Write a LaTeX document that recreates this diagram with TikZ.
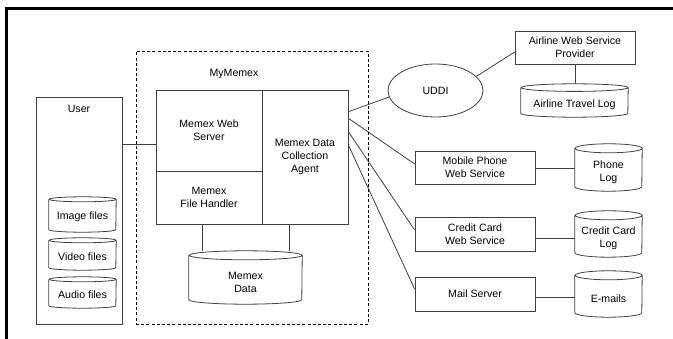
\documentclass[tikz,border=0pt]{standalone}
\usepackage{fontspec}
\setmainfont{Liberation Sans}
\usetikzlibrary{shapes.geometric,backgrounds}

\tikzset{
  every node/.style={font=\fontsize{10.6}{13}\selectfont, align=center},
  box/.style={draw=black!75, line width=0.8pt, rectangle, inner sep=0pt, fill=white},
  group/.style={draw=black, line width=0.8pt, dash pattern=on 3pt off 2.2pt, rectangle, inner sep=0pt},
  registry/.style={draw=black!75, line width=0.8pt, ellipse, inner sep=0pt, fill=white},
  drumframe/.style={draw=none, rectangle, inner sep=0pt},
  drumline/.style={draw=black!75, line width=0.8pt, fill=white},
  link/.style={draw=black!75, line width=0.8pt},
  frame/.style={draw=black, line width=2.5pt},
}

% storage drum: name, centre x, top y, bottom y, width, ellipse half-height, text
\newcommand\drum[7]{%
  \pgfmathsetmacro\drumH{#4-#3}%
  \pgfmathsetmacro\drumM{(#3+#4)/2}%
  \pgfmathsetmacro\drumT{(#3+2*#6+#4)/2}%
  \node[drumframe, minimum width=#5pt, minimum height=\drumH pt] (#1) at (#2,\drumM) {};
  \draw[drumline] ([yshift=-#6pt]#1.north west) -- ([yshift=#6pt]#1.south west)
     arc[start angle=180, end angle=360, x radius=#5pt/2, y radius=#6pt]
     -- ([yshift=-#6pt]#1.north east)
     arc[start angle=0, end angle=360, x radius=#5pt/2, y radius=#6pt];
  \node (#1-label) at (#2,\drumT) {#7};
}

\begin{document}
\begin{tikzpicture}[x=1pt, y=-1pt]
\useasboundingbox (0,0) rectangle (673,339);

% outer frame (only top and left edges fall inside the page)
\draw[frame] (6.3,345) -- (6.3,8.7) -- (680,8.7);

% user side
\node[box, minimum width=86pt, minimum height=227pt,
      label={[anchor=north, inner sep=0pt, yshift=-8pt]north:User}] (user) at (79,210.5) {};
\drum{image}{82.5}{197}{232}{67}{2.5}{Image files}
\drum{video}{82.5}{238}{270}{67}{2.5}{Video files}
\drum{audio}{82.5}{277}{308}{67}{2.5}{Audio files}

% MyMemex group
\node[group, minimum width=232pt, minimum height=273pt] (mymemex) at (252,187.5) {};
\node[anchor=base] (mymemex-title) at (234,77) {MyMemex};
\node[box, minimum width=106pt, minimum height=81pt] (webserver) at (209,130.5) {Memex Web\\Server};
\node[box, minimum width=106pt, minimum height=53pt] (handler) at (209,197.5) {Memex\\File Handler};
\node[box, minimum width=86pt, minimum height=134pt] (agent) at (305,157) {Memex Data\\Collection\\Agent};
\drum{mdata}{245.5}{251}{304}{113}{4.5}{Memex\\Data}

% external services
\node[registry, minimum width=95pt, minimum height=53pt] (uddi) at (435.5,90.5) {UDDI};
\node[box, minimum width=120pt, minimum height=33pt] (airline) at (575,47.5) {Airline Web Service\\Provider};
\drum{airlog}{574.5}{84}{117}{107}{3.8}{Airline Travel Log}
\node[box, minimum width=120pt, minimum height=33pt] (mobile) at (475,167.5) {Mobile Phone\\Web Service};
\drum{phonelog}{608.5}{144}{191}{67}{4.5}{Phone\\Log}
\node[box, minimum width=120pt, minimum height=34pt] (credit) at (475,234) {Credit Card\\Web Service};
\drum{creditlog}{608.5}{211}{257}{67}{4.5}{Credit Card\\Log}
\node[box, minimum width=120pt, minimum height=34pt] (mail) at (475,294) {Mail Server};
\drum{emails}{608.5}{271}{317}{67}{4.5}{E-mails}

% connectors
\begin{scope}[on background layer]
  \coordinate (userweb) at ([yshift=-13.5pt]webserver.west);
  \draw[link] (userweb -| user.east) -- (userweb);

  \coordinate (hdrop) at ([xshift=-7pt]handler.south);
  \coordinate (adrop) at ([xshift=-16pt]agent.south);
  \draw[link] (hdrop) -- (hdrop |- mdata.north);
  \draw[link] (adrop) -- (adrop |- mdata.north);

  \draw[link] ([yshift=45.3pt]agent.east) -- (uddi.188);
  \draw[link] ([yshift=38.7pt]agent.east) -- ([yshift=3.5pt]mobile.west);
  \draw[link] ([yshift=25.3pt]agent.east) -- ([yshift=4pt]credit.west);
  \draw[link] ([yshift=12pt]agent.east) -- ([yshift=5pt]mail.west);

  \draw[link] (uddi.19) -- ([yshift=-4.5pt]airline.west);
  \draw[link] (airline.south) -- (airline.south |- airlog.north);

  \coordinate (mobout) at ([yshift=-1pt]mobile.east);
  \coordinate (credout) at ([yshift=-4pt]credit.east);
  \coordinate (mailout) at ([yshift=-3pt]mail.east);
  \draw[link] (mobout) -- (mobout -| phonelog.west);
  \draw[link] (credout) -- (credout -| creditlog.west);
  \draw[link] (mailout) -- (mailout -| emails.west);
\end{scope}
\end{tikzpicture}
\end{document}
